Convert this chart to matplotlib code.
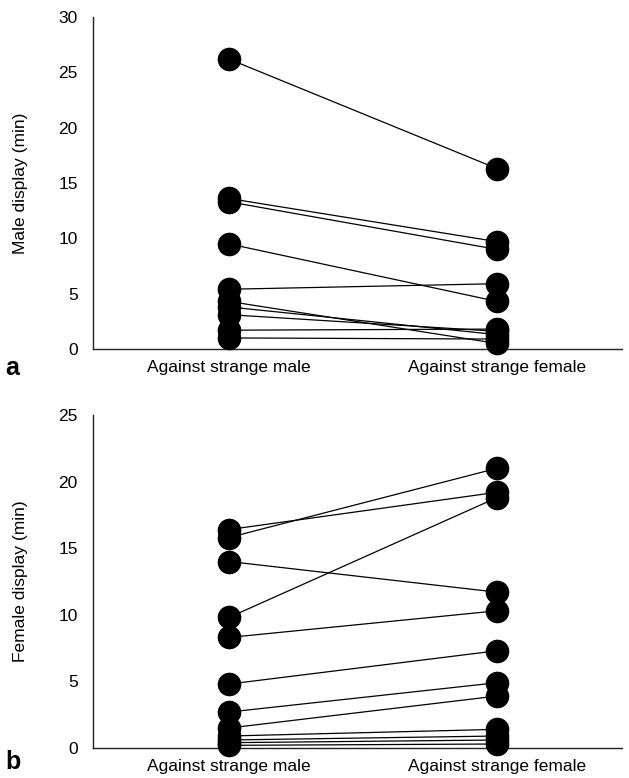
import matplotlib
matplotlib.use('Agg')
import matplotlib.pyplot as plt

plt.rcParams['font.family'] = ['Liberation Sans', 'DejaVu Sans']

categories = ['Against strange male', 'Against strange female']

# panel a: male display (min), one pair per male
male_vs_male   = [26.2, 13.6, 13.3, 9.5, 5.4, 4.3, 3.8, 3.1, 1.7, 1.0]
male_vs_female = [16.3, 9.7, 9.0, 4.3, 5.9, 0.5, 1.3, 1.6, 1.8, 0.9]

# panel b: female display (min), one pair per female
female_vs_male   = [16.4, 15.8, 14.0, 9.8, 8.3, 4.8, 2.7, 1.5, 0.9, 0.6, 0.4, 0.2]
female_vs_female = [19.2, 21.0, 11.7, 18.8, 10.3, 7.3, 4.9, 3.9, 1.4, 0.9, 0.6, 0.3]

W, H = 629, 778
fig = plt.figure(figsize=(W / 100, H / 100), dpi=100)

def panel(rect, left, right, ymax, ylabel, letter, letter_y):
    ax = fig.add_axes(rect)
    for a, b in zip(left, right):
        ax.plot([0, 1], [a, b], color='black', lw=0.9, zorder=2)
    ax.plot([0] * len(left), left, 'o', color='black', ms=16, zorder=3)
    ax.plot([1] * len(right), right, 'o', color='black', ms=16, zorder=3)

    ax.set_xlim(-0.507, 1.466)
    ax.set_ylim(0, ymax)
    ax.set_yticks(range(0, ymax + 1, 5))
    ax.set_xticks([0, 1])
    ax.set_xticklabels(categories)
    ax.tick_params(length=0, labelsize=12.5)
    ax.tick_params(axis='y', pad=11)
    ax.tick_params(axis='x', pad=8)
    for s in ['top', 'right']:
        ax.spines[s].set_visible(False)
    for s in ['left', 'bottom']:
        ax.spines[s].set_linewidth(1.0)
        ax.spines[s].set_color('#222222')
    ax.set_ylabel(ylabel, fontsize=12.5, labelpad=22)
    ax.text(-0.165, letter_y, letter, transform=ax.transAxes, fontsize=18,
            fontweight='bold', va='center', ha='left')
    for p in ax.lines:
        p.set_clip_on(False)
    return ax

left = 93 / W
width = (622 - 93) / W
panel([left, 1 - 349 / H, width, 332 / H], male_vs_male, male_vs_female,
      30, 'Male display (min)', 'a', -0.058)
panel([left, 1 - 748 / H, width, 333 / H], female_vs_male, female_vs_female,
      25, 'Female display (min)', 'b', -0.042)

fig.savefig('out.png', dpi=100)
